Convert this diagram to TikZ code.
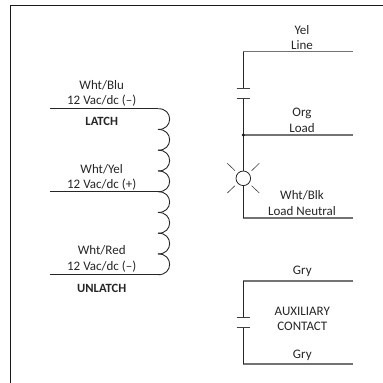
\documentclass[tikz,border=0pt]{standalone}
\usepackage{fontspec}
\setmainfont{Carlito}
\begin{document}
\begin{tikzpicture}[x=1bp,y=-1bp,
  lbl/.style={inner sep=0pt,font=\fontsize{13bp}{15bp}\selectfont,text=black!85},
  blbl/.style={lbl,font=\fontsize{12.6bp}{15bp}\selectfont\bfseries},
  wire/.style={line width=0.9bp,draw=black!85},
  lead/.style={line width=1.2bp,draw=black!55},
  thin wire/.style={line width=0.6bp,draw=black!75}]
\useasboundingbox (0,0) rectangle (383,383);
\draw[line width=1.1bp,black!90] (10.5,383) -- (10.5,5.3) -- (383,5.3);
% coil leads
\coordinate (a1) at (50,108.7); \coordinate (b1) at (158,108.7);
\coordinate (a2) at (50,191.7); \coordinate (b2) at (158,191.7);
\coordinate (a3) at (50,274.7); \coordinate (b3) at (158,274.7);
\draw[wire] (a1) -- (b1);
\draw[wire] (a2) -- (b2);
\draw[wire] (a3) -- (b3);
\foreach \i in {0,...,7}{
  \pgfmathsetmacro\ys{108.7+20.75*\i}
  \pgfmathsetmacro\ye{\ys+20.75}
  \draw[wire] (158,\ys) .. controls (173.5,\ys-0.5) and (173.5,\ye+0.5) .. (158,\ye);
}
\node[lbl] (t1) at (101.7,85.7) {Wht/Blu};
\node[lbl] (t2) at (101.7,100.7) {12 Vac/dc (–)};
\node[blbl] (t3) at (101.7,121.7) {LATCH};
\node[lbl] (t4) at (101.7,169.3) {Wht/Yel};
\node[lbl] (t5) at (101.7,184.7) {12 Vac/dc (+)};
\node[lbl] (t6) at (101.7,250.7) {Wht/Red};
\node[lbl] (t7) at (101.7,266.3) {12 Vac/dc (–)};
\node[blbl] (t8) at (101.7,288.3) {UNLATCH};
% upper relay contact and lamp
\coordinate (L) at (243.3,51.7); \coordinate (Lr) at (352.7,51.7);
\coordinate (O) at (243.3,135); \coordinate (Or) at (352.7,135);
\coordinate (N) at (243.3,218); \coordinate (Nr) at (352.7,218);
\coordinate (p1) at (243.3,88.7); \coordinate (p2) at (243.3,98);
\node[circle,draw=black!85,line width=0.8bp,minimum size=14.6bp,inner sep=0pt] (lamp) at (243.3,178.3) {};
\draw[lead] (L) -- (Lr);
\draw[lead] (O) -- (Or);
\draw[lead] (N) -- (Nr);
\draw[wire] (L) -- (p1);
\draw[wire] (p2) -- (O) -- (lamp);
\draw[wire] (lamp) -- (N);
\draw[thin wire] (236.7,88.7) -- (250.2,88.7);
\draw[thin wire] (236.7,98) -- (250.2,98);
\fill[black!90] (O) circle (1.7bp);
\draw[thin wire] (227.3,163.3) -- (235,170.7);
\draw[thin wire] (259.3,163.3) -- (251.6,170.7);
\draw[thin wire] (227.3,193) -- (235,185.7);
\draw[thin wire] (259.3,193) -- (251.6,185.7);
\node[lbl] (t9) at (302,30) {Yel};
\node[lbl] (t10) at (302,45) {Line};
\node[lbl] (t11) at (302,113.3) {Org};
\node[lbl] (t12) at (302,127.7) {Load};
\node[lbl] (t13) at (302,195.7) {Wht/Blk};
\node[lbl] (t14) at (302,211) {Load Neutral};
% auxiliary contact
\coordinate (A) at (243.3,281); \coordinate (Ar) at (352.7,281);
\coordinate (B) at (243.3,364); \coordinate (Br) at (352.7,364);
\coordinate (q1) at (243.3,317.7); \coordinate (q2) at (243.3,327);
\draw[lead] (A) -- (Ar);
\draw[lead] (B) -- (Br);
\draw[wire] (A) -- (q1);
\draw[wire] (q2) -- (B);
\draw[thin wire] (236.7,317.7) -- (250.2,317.7);
\draw[thin wire] (236.7,327) -- (250.2,327);
\node[lbl] (t15) at (302.3,271.7) {Gry};
\node[lbl] (t16) at (302.3,311.7) {AUXILIARY};
\node[lbl] (t17) at (302.3,326.7) {CONTACT};
\node[lbl] (t18) at (302.3,355) {Gry};
\end{tikzpicture}
\end{document}
